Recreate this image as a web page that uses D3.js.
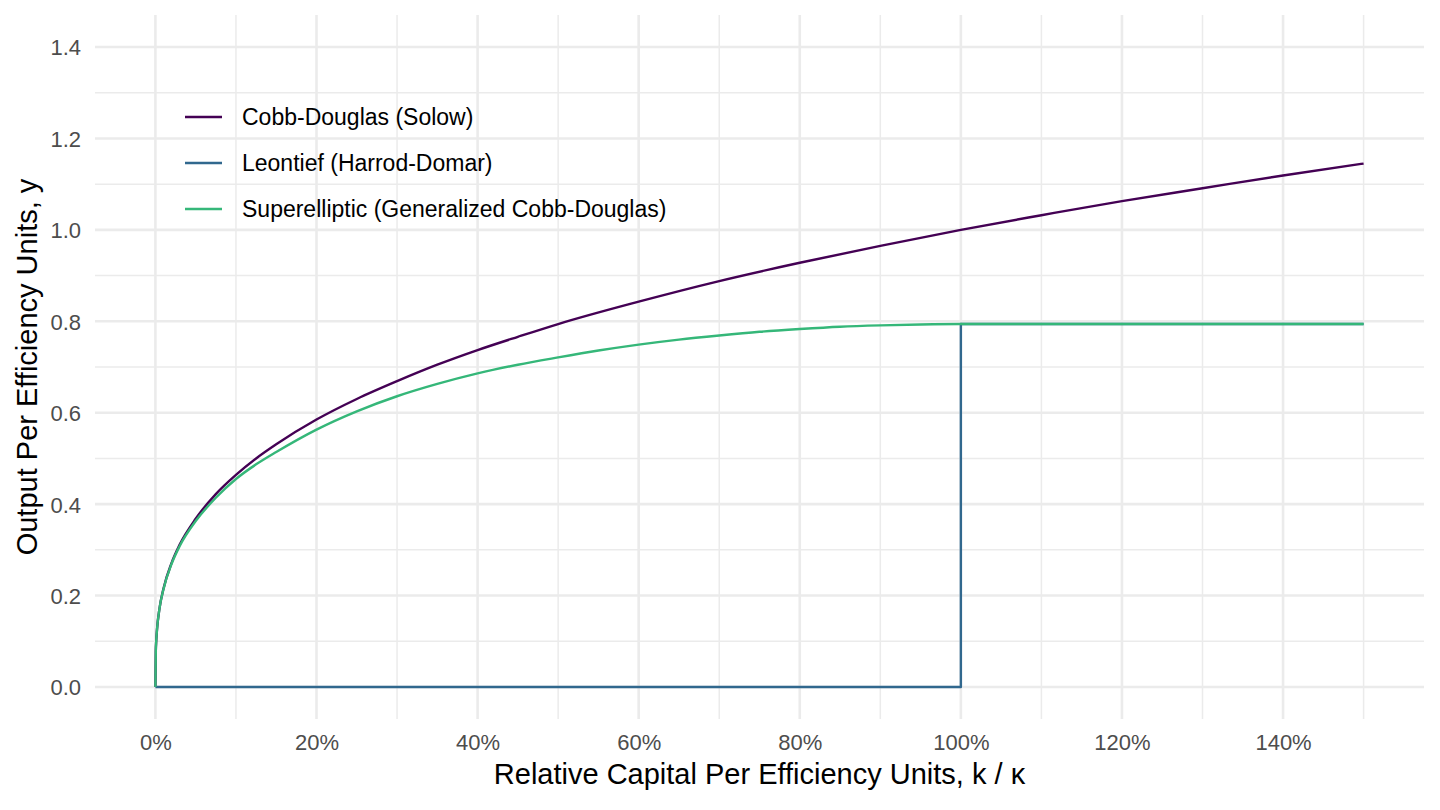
<!DOCTYPE html>
<html>
<head>
<meta charset="utf-8">
<script src="https://cdn.jsdelivr.net/npm/d3@7"></script>
<style>
  html, body { margin: 0; padding: 0; background: #fff; }
  svg { display: block; font-family: "Liberation Sans", Arial, sans-serif; }
</style>
</head>
<body>
<svg id="chart" width="1440" height="810"></svg>
<script>
// ---- data ----
const seriesNames = ["Cobb-Douglas (Solow)", "Leontief (Harrod-Domar)", "Superelliptic (Generalized Cobb-Douglas)"];
const seriesColors = ["#440154", "#31688E", "#35B779"];

const cobbK = [0, 0.0005, 0.001, 0.002, 0.005, 0.01, 0.02, 0.03, 0.05, 0.075, 0.1, 0.125, 0.15, 0.2, 0.25, 0.3, 0.35, 0.4, 0.45, 0.5, 0.6, 0.7, 0.8, 0.9, 1.0, 1.1, 1.2, 1.3, 1.4, 1.5];
const cobbY = [0, 0.079, 0.100, 0.126, 0.171, 0.215, 0.271, 0.311, 0.368, 0.422, 0.464, 0.500, 0.531, 0.585, 0.630, 0.669, 0.705, 0.737, 0.766, 0.794, 0.843, 0.888, 0.928, 0.965, 1.000, 1.032, 1.063, 1.091, 1.119, 1.145];

const leonK = [0, 1.0, 1.0, 1.5];
const leonY = [0, 0, 0.794, 0.794];

const superK = [0, 0.0005, 0.001, 0.002, 0.005, 0.01, 0.02, 0.03, 0.05, 0.075, 0.1, 0.125, 0.15, 0.2, 0.25, 0.3, 0.35, 0.4, 0.45, 0.5, 0.55, 0.6, 0.65, 0.7, 0.75, 0.8, 0.85, 0.9, 0.95, 1.0, 1.1, 1.2, 1.3, 1.4, 1.5];
const superY = [0, 0.079, 0.100, 0.126, 0.171, 0.214, 0.269, 0.308, 0.363, 0.414, 0.455, 0.487, 0.514, 0.563, 0.603, 0.636, 0.663, 0.686, 0.705, 0.721, 0.736, 0.749, 0.760, 0.769, 0.777, 0.783, 0.788, 0.791, 0.793, 0.794, 0.794, 0.794, 0.794, 0.794, 0.794];

const xTicks = [0, 0.2, 0.4, 0.6, 0.8, 1.0, 1.2, 1.4];
const xTickLabels = ["0%", "20%", "40%", "60%", "80%", "100%", "120%", "140%"];
const xMinor = [0.1, 0.3, 0.5, 0.7, 0.9, 1.1, 1.3, 1.5];
const yTicks = [0, 0.2, 0.4, 0.6, 0.8, 1.0, 1.2, 1.4];
const yTickLabels = ["0.0", "0.2", "0.4", "0.6", "0.8", "1.0", "1.2", "1.4"];
const yMinor = [0.1, 0.3, 0.5, 0.7, 0.9, 1.1, 1.3];

const xTitle = "Relative Capital Per Efficiency Units, k / \u03BA";
const yTitle = "Output Per Efficiency Units, y";

// ---- layout ----
const svg = d3.select("#chart");
const panel = { left: 95, right: 1424, top: 15, bottom: 719 };

const x = d3.scaleLinear().domain([-0.075, 1.575]).range([panel.left, panel.right]);
const y = d3.scaleLinear().domain([-0.07, 1.47]).range([panel.bottom, panel.top]);

const grid = svg.append("g");
// minor grid
grid.selectAll(".vminor").data(xMinor).join("line")
  .attr("x1", d => x(d)).attr("x2", d => x(d))
  .attr("y1", panel.top).attr("y2", panel.bottom)
  .attr("stroke", "#EBEBEB").attr("stroke-width", 1.5);
grid.selectAll(".hminor").data(yMinor).join("line")
  .attr("y1", d => y(d)).attr("y2", d => y(d))
  .attr("x1", panel.left).attr("x2", panel.right)
  .attr("stroke", "#EBEBEB").attr("stroke-width", 1.5);
// major grid
grid.selectAll(".vmajor").data(xTicks).join("line")
  .attr("x1", d => x(d)).attr("x2", d => x(d))
  .attr("y1", panel.top).attr("y2", panel.bottom)
  .attr("stroke", "#EBEBEB").attr("stroke-width", 2.6);
grid.selectAll(".hmajor").data(yTicks).join("line")
  .attr("y1", d => y(d)).attr("y2", d => y(d))
  .attr("x1", panel.left).attr("x2", panel.right)
  .attr("stroke", "#EBEBEB").attr("stroke-width", 2.6);

// axes (labels only)
const xAxis = d3.axisBottom(x).tickValues(xTicks).tickSize(0).tickPadding(0)
  .tickFormat((d, i) => xTickLabels[i]);
const gx = svg.append("g").attr("transform", `translate(0,750)`).call(xAxis);
gx.select(".domain").remove();
gx.selectAll("text").attr("fill", "#4D4D4D").attr("font-size", 22)
  .attr("font-family", "Liberation Sans, Arial, sans-serif").attr("y", 0).attr("dy", 0);

const yAxis = d3.axisLeft(y).tickValues(yTicks).tickSize(0).tickPadding(0)
  .tickFormat((d, i) => yTickLabels[i]);
const gy = svg.append("g").attr("transform", `translate(81,0)`).call(yAxis);
gy.select(".domain").remove();
gy.selectAll("text").attr("fill", "#4D4D4D").attr("font-size", 22)
  .attr("font-family", "Liberation Sans, Arial, sans-serif").attr("dy", "0.36em");

// lines
const line = d3.line().curve(d3.curveMonotoneX).x(d => x(d[0])).y(d => y(d[1]));
const lineStep = d3.line().x(d => x(d[0])).y(d => y(d[1]));
const series = [
  d3.zip(cobbK, cobbY),
  d3.zip(leonK, leonY),
  d3.zip(superK, superY)
];
svg.append("g").selectAll("path").data(series).join("path")
  .attr("d", (d, i) => i === 1 ? lineStep(d) : line(d))
  .attr("fill", "none")
  .attr("stroke", (d, i) => seriesColors[i])
  .attr("stroke-width", 2.4)
  .attr("stroke-linejoin", "round");

// legend
const legend = svg.append("g");
const legY = [117, 163, 209];
seriesNames.forEach((name, i) => {
  legend.append("line")
    .attr("x1", 185).attr("x2", 222)
    .attr("y1", legY[i]).attr("y2", legY[i])
    .attr("stroke", seriesColors[i]).attr("stroke-width", 2.4);
  legend.append("text")
    .attr("x", 242).attr("y", legY[i]).attr("dy", "0.36em")
    .attr("font-size", 23).attr("fill", "#000")
    .text(name);
});

// titles
svg.append("text")
  .attr("x", (panel.left + panel.right) / 2).attr("y", 784)
  .attr("text-anchor", "middle").attr("font-size", 29).attr("fill", "#000")
  .text(xTitle);
svg.append("text")
  .attr("transform", `translate(37,${(panel.top + panel.bottom) / 2}) rotate(-90)`)
  .attr("text-anchor", "middle").attr("font-size", 29).attr("fill", "#000")
  .text(yTitle);
</script>
</body>
</html>
